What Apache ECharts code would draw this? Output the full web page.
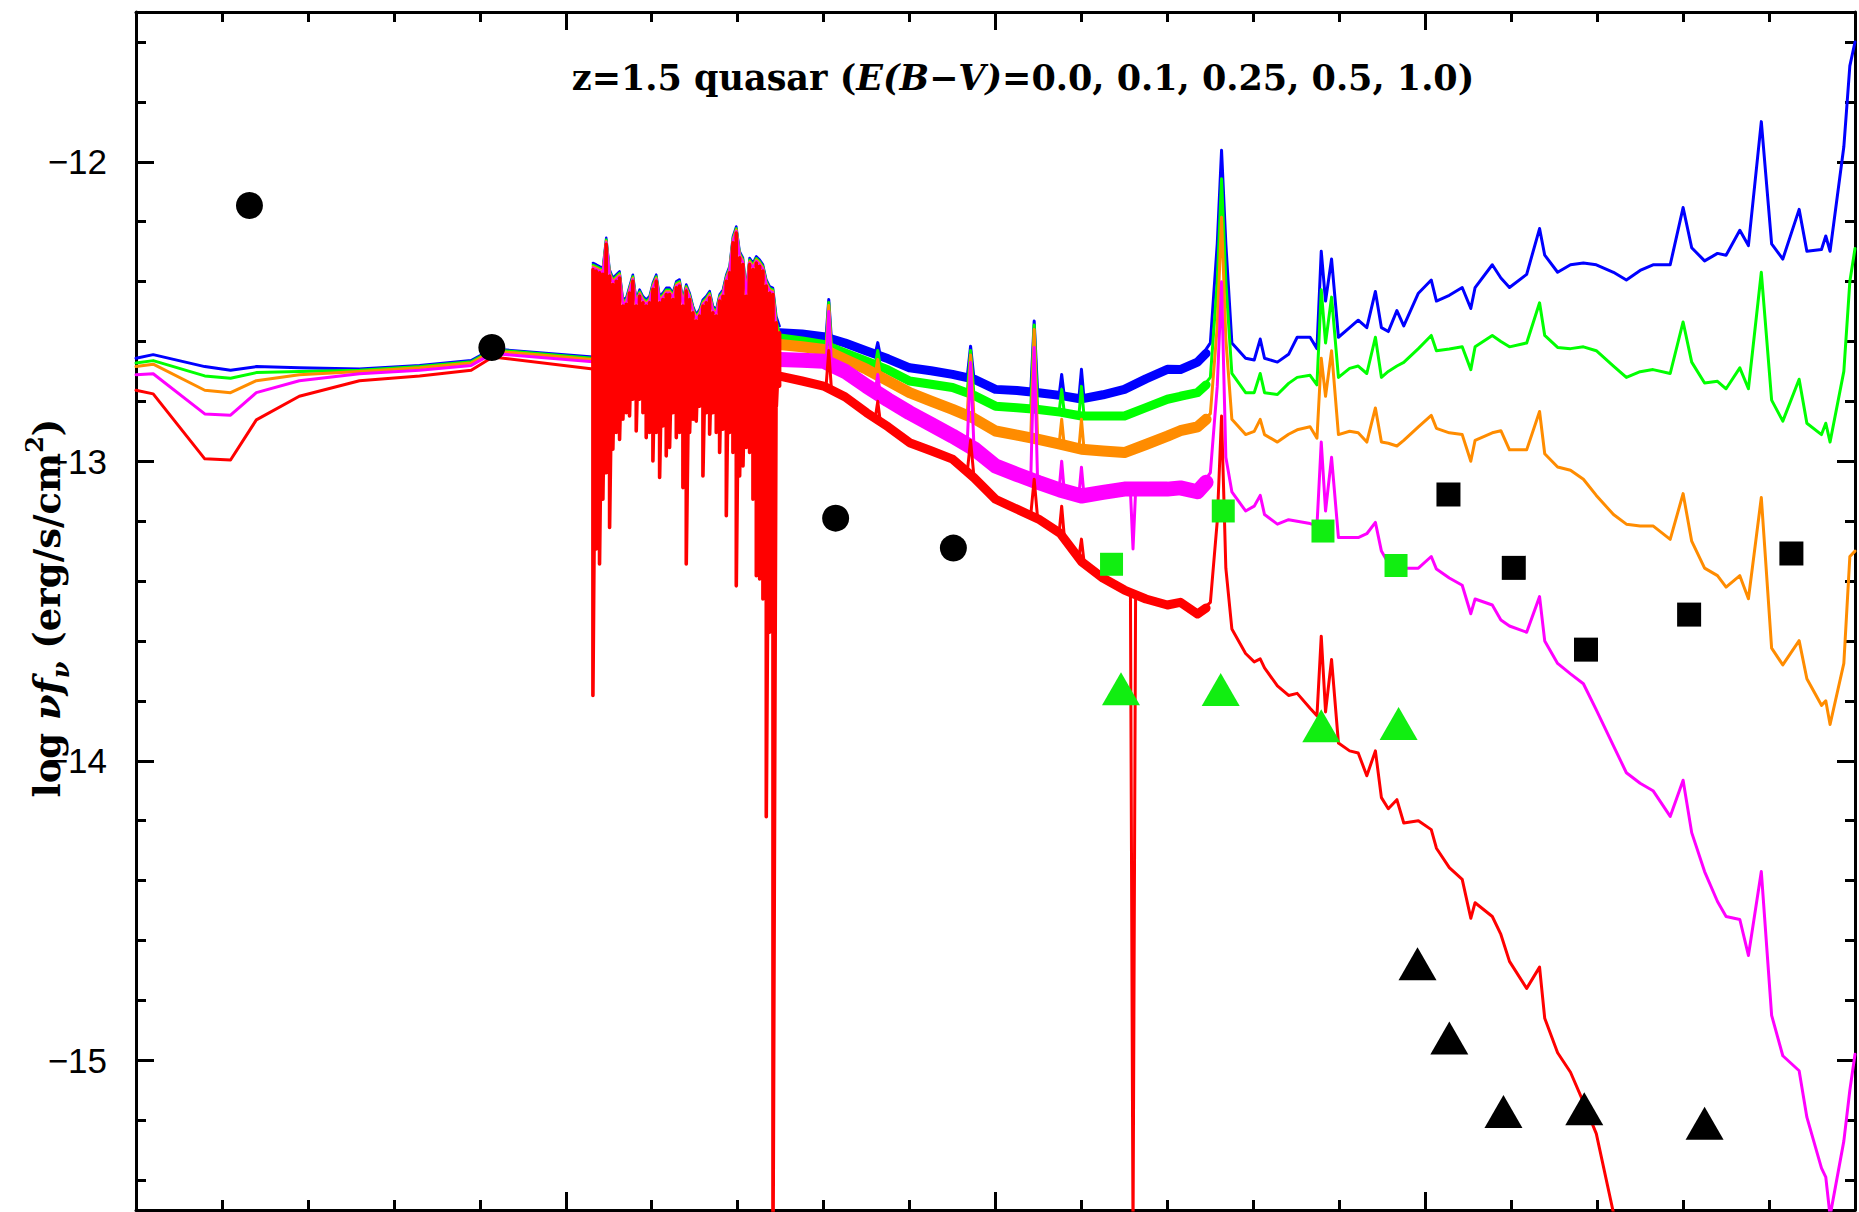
<!DOCTYPE html>
<html><head><meta charset="utf-8">
<script src="https://cdn.jsdelivr.net/npm/echarts@6/dist/echarts.min.js"></script>
<style>html,body{margin:0;padding:0;background:#fff}#c{width:1859px;height:1212px}</style>
</head><body><div id="c"></div>
<script>
// ---------- axis ticks ----------
const xMajorInterval = 0.5;
const yMajorTicks = [-15, -14, -13, -12];
const yMinorTicks = [-15.4,-15.2,-14.8,-14.6,-14.4,-14.2,-13.8,-13.6,-13.4,-13.2,-12.8,-12.6,-12.4,-12.2,-11.8,-11.6];

// ---------- SED curves: log nu (x) and log nu f_nu (y) ----------
// smooth IR part
const xLeft = [13.0, 13.02, 13.08, 13.11, 13.14, 13.19, 13.26, 13.33, 13.39, 13.415, 13.5316];
const blueLeft    = [-12.656,-12.644,-12.684,-12.696,-12.684,-12.688,-12.692,-12.680,-12.664,-12.625,-12.652];
const greenLeft   = [-12.672,-12.664,-12.715,-12.723,-12.704,-12.700,-12.696,-12.684,-12.668,-12.628,-12.656];
const orangeLeft  = [-12.684,-12.676,-12.763,-12.771,-12.731,-12.711,-12.700,-12.688,-12.672,-12.632,-12.660];
const magentaLeft = [-12.711,-12.708,-12.842,-12.846,-12.771,-12.731,-12.708,-12.696,-12.680,-12.640,-12.668];
const redLeft     = [-12.763,-12.775,-12.992,-12.996,-12.862,-12.783,-12.731,-12.715,-12.696,-12.652,-12.692];

// noisy near-IR part
const noiseNu = [13.5316,13.5354,13.5393,13.5432,13.5471,13.5510,13.5548,13.5587,13.5626,13.5665,13.5704,13.5742,13.5781,13.5820,13.5859,13.5898,13.5936,13.5975,13.6014,13.6053,13.6092,13.6130,13.6169,13.6208,13.6247,13.6286,13.6324,13.6363,13.6402,13.6441,13.6480,13.6518,13.6557,13.6596,13.6635,13.6674,13.6712,13.6751,13.6790,13.6829,13.6868,13.6906,13.6945,13.6984,13.7023,13.7062,13.7100,13.7139,13.7178,13.7217,13.7256,13.7294,13.7333,13.7372,13.7411,13.7450,13.7488];
const blueNoise = [-12.338,-12.343,-12.349,-12.354,-12.254,-12.360,-12.388,-12.377,-12.366,-12.460,-12.454,-12.416,-12.377,-12.460,-12.427,-12.449,-12.460,-12.449,-12.404,-12.377,-12.449,-12.438,-12.421,-12.421,-12.438,-12.399,-12.393,-12.460,-12.410,-12.438,-12.482,-12.510,-12.493,-12.460,-12.449,-12.432,-12.482,-12.493,-12.443,-12.427,-12.377,-12.349,-12.249,-12.216,-12.299,-12.321,-12.427,-12.321,-12.338,-12.316,-12.327,-12.343,-12.393,-12.416,-12.421,-12.516,-12.549];
const greenNoise = [-12.344,-12.349,-12.355,-12.360,-12.260,-12.366,-12.394,-12.383,-12.372,-12.466,-12.460,-12.422,-12.383,-12.466,-12.433,-12.455,-12.466,-12.455,-12.410,-12.383,-12.455,-12.444,-12.427,-12.427,-12.444,-12.405,-12.399,-12.466,-12.416,-12.444,-12.488,-12.516,-12.499,-12.466,-12.455,-12.438,-12.488,-12.499,-12.449,-12.433,-12.383,-12.355,-12.255,-12.222,-12.305,-12.327,-12.433,-12.327,-12.344,-12.322,-12.333,-12.349,-12.399,-12.422,-12.427,-12.530,-12.575];
const orangeNoise = [-12.349,-12.354,-12.360,-12.365,-12.265,-12.371,-12.399,-12.388,-12.377,-12.471,-12.465,-12.427,-12.388,-12.471,-12.438,-12.460,-12.471,-12.460,-12.415,-12.388,-12.460,-12.449,-12.432,-12.432,-12.449,-12.410,-12.404,-12.471,-12.421,-12.449,-12.493,-12.521,-12.504,-12.471,-12.460,-12.443,-12.493,-12.504,-12.454,-12.438,-12.388,-12.360,-12.260,-12.227,-12.310,-12.332,-12.438,-12.332,-12.349,-12.327,-12.338,-12.354,-12.404,-12.427,-12.432,-12.545,-12.600];
const magentaNoise = [-12.354,-12.359,-12.365,-12.370,-12.270,-12.376,-12.404,-12.393,-12.382,-12.476,-12.470,-12.432,-12.393,-12.476,-12.443,-12.465,-12.476,-12.465,-12.420,-12.393,-12.465,-12.454,-12.437,-12.437,-12.454,-12.415,-12.409,-12.476,-12.426,-12.454,-12.498,-12.526,-12.509,-12.476,-12.465,-12.448,-12.498,-12.509,-12.459,-12.443,-12.393,-12.365,-12.265,-12.232,-12.315,-12.337,-12.443,-12.337,-12.354,-12.332,-12.343,-12.359,-12.409,-12.432,-12.437,-12.570,-12.650];
const redNoiseTop = [-12.360,-12.365,-12.371,-12.376,-12.276,-12.382,-12.410,-12.399,-12.388,-12.482,-12.476,-12.438,-12.399,-12.482,-12.449,-12.471,-12.482,-12.471,-12.426,-12.399,-12.471,-12.460,-12.443,-12.443,-12.460,-12.421,-12.415,-12.482,-12.432,-12.460,-12.504,-12.532,-12.515,-12.482,-12.471,-12.454,-12.504,-12.515,-12.465,-12.449,-12.399,-12.371,-12.271,-12.238,-12.321,-12.343,-12.449,-12.343,-12.360,-12.338,-12.349,-12.365,-12.415,-12.438,-12.443,-12.538,-12.571];
const redNoiseBottom = [-13.782,-13.293,-13.343,-13.127,-13.038,-13.221,-12.960,-12.904,-12.927,-12.860,-12.838,-12.849,-12.793,-12.899,-12.793,-12.838,-12.921,-12.904,-12.999,-12.904,-13.054,-12.882,-12.982,-12.954,-12.838,-12.921,-12.904,-13.088,-13.343,-12.904,-12.860,-12.866,-12.816,-13.049,-12.838,-12.910,-12.838,-12.904,-12.971,-12.893,-13.182,-12.904,-12.971,-13.416,-13.049,-13.016,-12.954,-12.971,-13.127,-13.382,-13.393,-13.460,-14.187,-13.571,-15.600,-12.816,-12.749];

// optical part: broad noisy band (continuum) ...
const xBand = [13.749,13.775,13.80,13.825,13.85,13.875,13.90,13.925,13.95,13.975,14.00,14.025,14.05,14.075,14.10,14.125,14.15,14.175,14.20,14.215,14.235,14.245];
const blueBand    = [-12.571,-12.575,-12.584,-12.605,-12.632,-12.658,-12.688,-12.698,-12.710,-12.726,-12.760,-12.764,-12.771,-12.780,-12.792,-12.778,-12.760,-12.725,-12.693,-12.694,-12.669,-12.640];
const greenBand   = [-12.588,-12.598,-12.610,-12.638,-12.666,-12.695,-12.732,-12.743,-12.754,-12.780,-12.816,-12.821,-12.827,-12.836,-12.849,-12.849,-12.849,-12.821,-12.793,-12.783,-12.771,-12.745];
const orangeBand  = [-12.610,-12.618,-12.627,-12.660,-12.693,-12.732,-12.771,-12.799,-12.827,-12.857,-12.899,-12.913,-12.927,-12.943,-12.960,-12.966,-12.971,-12.944,-12.916,-12.898,-12.885,-12.860];
const magentaBand = [-12.660,-12.663,-12.666,-12.700,-12.749,-12.795,-12.838,-12.877,-12.916,-12.958,-13.016,-13.044,-13.071,-13.096,-13.116,-13.104,-13.093,-13.093,-13.093,-13.089,-13.102,-13.070];
const redBand     = [-12.716,-12.732,-12.749,-12.785,-12.838,-12.885,-12.938,-12.965,-12.993,-13.055,-13.127,-13.160,-13.193,-13.240,-13.335,-13.390,-13.430,-13.460,-13.480,-13.471,-13.510,-13.490];
// ... and its narrow emission / absorption lines
const xMid = [13.749,13.775,13.80,13.803,13.806,13.809,13.825,13.85,13.860,13.863,13.866,13.875,13.90,13.925,13.95,13.967,13.971,13.975,14.00,14.025,14.041,14.045,14.049,14.06,14.074,14.077,14.080,14.097,14.100,14.103,14.125,14.15,14.157,14.160,14.163,14.175,14.20,14.215];
const blueMid    = [-12.571,-12.575,-12.584,-12.58,-12.460,-12.59,-12.605,-12.632,-12.642,-12.604,-12.648,-12.658,-12.688,-12.698,-12.710,-12.722,-12.616,-12.726,-12.760,-12.764,-12.768,-12.532,-12.770,-12.776,-12.780,-12.710,-12.783,-12.790,-12.693,-12.792,-12.778,-12.760,-12.745,-12.745,-12.740,-12.725,-12.693,-12.694];
const greenMid   = [-12.588,-12.598,-12.610,-12.61,-12.470,-12.615,-12.638,-12.666,-12.679,-12.630,-12.684,-12.695,-12.732,-12.743,-12.754,-12.775,-12.630,-12.780,-12.816,-12.821,-12.825,-12.545,-12.827,-12.831,-12.836,-12.760,-12.838,-12.848,-12.750,-12.849,-12.849,-12.849,-12.843,-12.843,-12.840,-12.821,-12.793,-12.783];
const orangeMid  = [-12.610,-12.618,-12.627,-12.63,-12.480,-12.635,-12.660,-12.693,-12.709,-12.660,-12.717,-12.732,-12.771,-12.799,-12.827,-12.851,-12.645,-12.857,-12.899,-12.913,-12.922,-12.560,-12.926,-12.934,-12.943,-12.860,-12.947,-12.958,-12.860,-12.960,-12.966,-12.971,-12.963,-12.963,-12.958,-12.944,-12.916,-12.898];
const magentaMid = [-12.660,-12.663,-12.666,-12.67,-12.500,-12.672,-12.700,-12.749,-12.767,-12.710,-12.778,-12.795,-12.838,-12.877,-12.916,-12.950,-12.670,-12.958,-13.016,-13.044,-13.061,-12.620,-13.069,-13.080,-13.096,-13.000,-13.100,-13.113,-13.020,-13.115,-13.104,-13.093,-13.10,-13.293,-13.10,-13.093,-13.093,-13.089];
const redMid     = [-12.716,-12.732,-12.749,-12.745,-12.630,-12.755,-12.785,-12.838,-12.858,-12.800,-12.868,-12.885,-12.938,-12.965,-12.993,-13.040,-12.930,-13.055,-13.127,-13.160,-13.180,-13.060,-13.190,-13.210,-13.240,-13.150,-13.250,-13.320,-13.260,-13.335,-13.390,-13.430,-13.440,-15.600,-13.445,-13.460,-13.480,-13.471];

// UV-ish part with emission lines
const xRight = [14.215,14.235,14.250,14.258,14.263,14.268,14.275,14.291,14.301,14.308,14.313,14.328,14.341,14.351,14.366,14.374,14.379,14.384,14.391,14.399,14.412,14.422,14.432,14.442,14.449,14.457,14.467,14.475,14.492,14.507,14.513,14.528,14.543,14.553,14.558,14.578,14.588,14.598,14.618,14.633,14.639,14.654,14.669,14.684,14.699,14.719,14.734,14.750,14.765,14.785,14.800,14.810,14.825,14.840,14.850,14.866,14.876,14.891,14.903,14.916,14.935,14.944,14.961,14.966,14.971,14.987,14.994,15.000];
const blueRight = [-12.694,-12.669,-12.605,-12.274,-11.962,-12.274,-12.605,-12.656,-12.662,-12.592,-12.656,-12.669,-12.643,-12.586,-12.586,-12.624,-12.299,-12.465,-12.325,-12.586,-12.554,-12.529,-12.554,-12.433,-12.554,-12.567,-12.497,-12.548,-12.439,-12.395,-12.465,-12.446,-12.420,-12.490,-12.420,-12.344,-12.388,-12.420,-12.376,-12.223,-12.312,-12.369,-12.344,-12.338,-12.344,-12.369,-12.395,-12.363,-12.344,-12.344,-12.153,-12.287,-12.331,-12.306,-12.312,-12.229,-12.280,-11.866,-12.274,-12.325,-12.159,-12.299,-12.293,-12.248,-12.299,-11.950,-11.680,-11.600];
const greenRight = [-12.783,-12.771,-12.720,-12.401,-12.057,-12.401,-12.707,-12.771,-12.771,-12.707,-12.771,-12.777,-12.740,-12.720,-12.713,-12.745,-12.427,-12.605,-12.452,-12.720,-12.690,-12.682,-12.707,-12.586,-12.720,-12.700,-12.682,-12.670,-12.624,-12.580,-12.631,-12.625,-12.618,-12.694,-12.618,-12.580,-12.600,-12.618,-12.605,-12.471,-12.580,-12.620,-12.624,-12.618,-12.631,-12.682,-12.720,-12.701,-12.694,-12.707,-12.535,-12.669,-12.739,-12.733,-12.758,-12.688,-12.758,-12.369,-12.796,-12.866,-12.726,-12.873,-12.911,-12.873,-12.936,-12.700,-12.400,-12.290];
const orangeRight = [-12.898,-12.885,-12.841,-12.550,-12.185,-12.592,-12.860,-12.911,-12.900,-12.860,-12.911,-12.936,-12.910,-12.895,-12.885,-12.923,-12.656,-12.783,-12.631,-12.911,-12.900,-12.905,-12.936,-12.822,-12.936,-12.940,-12.949,-12.930,-12.885,-12.847,-12.890,-12.905,-12.911,-13.000,-12.930,-12.905,-12.898,-12.962,-12.962,-12.834,-12.975,-13.019,-13.030,-13.060,-13.114,-13.178,-13.210,-13.216,-13.216,-13.261,-13.108,-13.267,-13.357,-13.382,-13.420,-13.382,-13.459,-13.121,-13.624,-13.680,-13.599,-13.726,-13.815,-13.800,-13.879,-13.675,-13.318,-13.300];
const magentaRight = [-13.089,-13.102,-13.038,-12.750,-12.401,-12.987,-13.102,-13.166,-13.150,-13.114,-13.178,-13.210,-13.195,-13.200,-13.208,-13.216,-12.936,-13.166,-12.987,-13.255,-13.255,-13.255,-13.242,-13.204,-13.300,-13.340,-13.357,-13.357,-13.357,-13.318,-13.360,-13.390,-13.414,-13.509,-13.460,-13.480,-13.530,-13.550,-13.571,-13.452,-13.600,-13.675,-13.710,-13.743,-13.830,-13.950,-14.040,-14.075,-14.100,-14.186,-14.065,-14.240,-14.370,-14.470,-14.520,-14.530,-14.650,-14.370,-14.850,-14.985,-15.035,-15.190,-15.360,-15.390,-15.520,-15.270,-15.100,-14.980];
const redRight = [-13.471,-13.510,-13.471,-13.200,-12.849,-13.357,-13.560,-13.642,-13.670,-13.660,-13.690,-13.750,-13.782,-13.775,-13.825,-13.850,-13.584,-13.837,-13.662,-13.941,-13.967,-13.974,-14.050,-13.967,-14.123,-14.160,-14.130,-14.208,-14.200,-14.230,-14.292,-14.357,-14.396,-14.526,-14.474,-14.520,-14.580,-14.670,-14.760,-14.689,-14.860,-14.975,-15.040,-15.140,-15.245,-15.510,-15.650];

// ---------- photometric points ----------
const circleNu = [13.132, 13.414, 13.814, 13.951];
const circleFlux = [-12.146, -12.620, -13.190, -13.290];
const greenSquareNu = [14.135, 14.265, 14.381, 14.466];
const greenSquareFlux = [-13.344, -13.166, -13.233, -13.348];
const greenTriNu = [14.146, 14.262, 14.379, 14.469];
const greenTriFlux = [-13.760, -13.762, -13.883, -13.876];
const blackSquareNu = [14.527, 14.603, 14.687, 14.807, 14.926];
const blackSquareFlux = [-13.111, -13.356, -13.629, -13.512, -13.308];
const blackTriNu = [14.491, 14.528, 14.591, 14.685, 14.825];
const blackTriFlux = [-14.678, -14.926, -15.171, -15.162, -15.210];

// ---------- texts ----------
const titleText = '{b|z=1.5 quasar (}{i|E(B\u2212V)}{b|=0.0, 0.1, 0.25, 0.5, 1.0)}';
const yTitleText = '{b|log }{i|\u03bdf}{s|\u03bd}{b| (erg/s/cm}{p|2}{b|)}';

// ---------- build ----------
const pts = (xs, ys) => ys.map((y, i) => [xs[i], y]);
const zig = (xs, a, b) => { const o = []; xs.forEach((x, i) => { o.push([x, a[i]]); o.push([x, b[i]]); }); return o; };
const C = {blue:'#0000ff', green:'#00ff00', orange:'#ff8c00', magenta:'#ff00ff', red:'#ff0000'};
function line(data, color, width) {
  return {type:'line', data, symbol:'none', showSymbol:false, silent:true, animation:false,
          lineStyle:{color, width, join:'round', cap:'round', opacity:1}, itemStyle:{color}};
}
function scatter(data, symbol, size, color) {
  return {type:'scatter', data, symbol, symbolSize:size, silent:true, animation:false, z:5, itemStyle:{color, opacity:1}};
}
function curve(color, left, noiseData, band, bandW, mid, right) {
  return [
    line(pts(xLeft, left), color, 3),
    line(noiseData, color, color === C.red ? 3.6 : 2.5),
    line(pts(xBand, band), color, bandW),
    line(pts(xMid, mid), color, 3),
    line(pts(xRight, right), color, 3)
  ];
}
const series = [].concat(
  curve(C.blue, blueLeft, pts(noiseNu, blueNoise), blueBand, 9, blueMid, blueRight),
  curve(C.green, greenLeft, pts(noiseNu, greenNoise), greenBand, 9, greenMid, greenRight),
  curve(C.orange, orangeLeft, pts(noiseNu, orangeNoise), orangeBand, 11, orangeMid, orangeRight),
  curve(C.magenta, magentaLeft, pts(noiseNu, magentaNoise), magentaBand, 15, magentaMid, magentaRight),
  curve(C.red, redLeft, zig(noiseNu, redNoiseTop, redNoiseBottom), redBand, 9, redMid, redRight),
  [
    scatter(pts(circleNu, circleFlux), 'circle', 27, '#000'),
    scatter(pts(greenSquareNu, greenSquareFlux), 'rect', 23, '#11ee11'),
    scatter(pts(greenTriNu, greenTriFlux), 'triangle', [38, 33], '#11ee11'),
    scatter(pts(blackSquareNu, blackSquareFlux), 'rect', 24, '#000'),
    scatter(pts(blackTriNu, blackTriFlux), 'triangle', [38, 33], '#000')
  ]
);

const axLine = {show:true, onZero:false, lineStyle:{color:'#000', width:3}};
const tickStyle = {color:'#000', width:3};
function xAx(pos) {
  return {type:'value', min:13, max:15, interval:xMajorInterval, position:pos,
    axisLine:axLine, axisTick:{show:true, inside:true, length:18, lineStyle:tickStyle},
    minorTick:{show:true, splitNumber:5, length:10, lineStyle:tickStyle},
    axisLabel:{show:false}, splitLine:{show:false}, minorSplitLine:{show:false}};
}
function yAx(pos, ticks, len, withLine, label) {
  return {type:'value', min:-15.5, max:-11.5, position:pos,
    axisLine: withLine ? axLine : {show:false},
    axisTick:{show:true, inside:true, length:len, customValues:ticks, lineStyle:tickStyle},
    axisLabel: label ? {show:true, customValues:ticks, formatter:v => '\u2212' + Math.abs(v), fontSize:35, margin:29, color:'#000', fontFamily:'Liberation Sans'} : {show:false},
    splitLine:{show:false}};
}
const serif = 'DejaVu Serif';

const option = {
  backgroundColor:'#fff',
  animation:false,
  grid:{left:136, right:4, top:12, bottom:2, containLabel:false, outerBoundsMode:'none'},
  xAxis:[xAx('bottom'), xAx('top')],
  yAxis:[yAx('left', yMajorTicks, 18, true, true), yAx('left', yMinorTicks, 10, false, false), yAx('right', yMajorTicks, 18, true, false), yAx('right', yMinorTicks, 10, false, false)],
  graphic:[
    {type:'text', x:1023, y:77, z:10, style:{
      text:titleText, align:'center', verticalAlign:'middle', fill:'#000',
      rich:{
        b:{fontFamily:serif, fontWeight:'bold', fontSize:35, fill:'#000'},
        i:{fontFamily:serif, fontWeight:'bold', fontStyle:'italic', fontSize:35, fill:'#000'}
      }}},
    {type:'text', x:47, y:608, rotation:Math.PI / 2, z:10, style:{
      text:yTitleText, align:'center', verticalAlign:'middle', fill:'#000',
      rich:{
        b:{fontFamily:serif, fontWeight:'bold', fontSize:37, lineHeight:50, fill:'#000'},
        i:{fontFamily:serif, fontWeight:'bold', fontStyle:'italic', fontSize:37, lineHeight:50, fill:'#000'},
        s:{fontFamily:serif, fontWeight:'bold', fontStyle:'italic', fontSize:24, lineHeight:50, verticalAlign:'bottom', fill:'#000'},
        p:{fontFamily:serif, fontWeight:'bold', fontSize:24, lineHeight:50, verticalAlign:'top', fill:'#000'}
      }}}
  ],
  series
};
const chart = echarts.init(document.getElementById('c'), null, {renderer:'svg', width:1859, height:1212});
chart.setOption(option);
</script></body></html>
